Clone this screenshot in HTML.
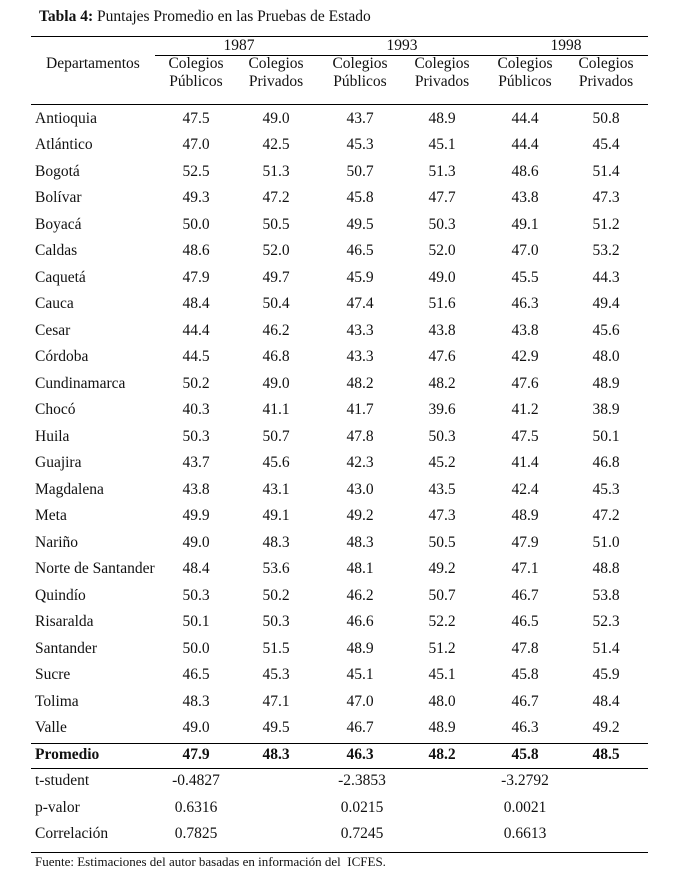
<!DOCTYPE html>
<html><head><meta charset="utf-8">
<style>
body{margin:0;background:#fff;}
#c{position:relative;width:692px;height:877px;font-family:"Liberation Serif",serif;font-size:15.5px;color:#111;overflow:hidden;}
#c div{position:absolute;white-space:nowrap;line-height:18px;}
.l{position:absolute;background:#000;height:1px;}
.n{transform:translateX(-50%);}
.r{height:26px;left:0;width:692px;}
.r span{position:absolute;top:0;transform:translateX(-50%);}
.r span.d{transform:none;left:35px;}
b{font-weight:bold;}
</style></head><body><div id="c">
<div style="left:39px;top:8px;font-size:15.5px"><b>Tabla 4:</b> Puntajes Promedio en las Pruebas de Estado</div>
<span class="l" style="left:31px;top:36px;width:617px"></span>
<span class="l" style="left:155px;top:55px;width:493px"></span>
<span class="l" style="left:31px;top:104px;width:617px"></span>
<span class="l" style="left:31px;top:743px;width:617px"></span>
<span class="l" style="left:31px;top:768px;width:617px"></span>
<span class="l" style="left:31px;top:852px;width:617px"></span>
<div class="n" style="left:239px;top:37px">1987</div>
<div class="n" style="left:402px;top:37px">1993</div>
<div class="n" style="left:566px;top:37px">1998</div>
<div style="left:46px;top:55px">Departamentos</div>
<div class="n" style="left:196px;top:55px;text-align:center">Colegios<br>Públicos</div>
<div class="n" style="left:276px;top:55px;text-align:center">Colegios<br>Privados</div>
<div class="n" style="left:360px;top:55px;text-align:center">Colegios<br>Públicos</div>
<div class="n" style="left:442px;top:55px;text-align:center">Colegios<br>Privados</div>
<div class="n" style="left:525px;top:55px;text-align:center">Colegios<br>Públicos</div>
<div class="n" style="left:606px;top:55px;text-align:center">Colegios<br>Privados</div>

<div class="r" style="top:110px"><span class="d">Antioquia</span><span style="left:196px">47.5</span><span style="left:276px">49.0</span><span style="left:360px">43.7</span><span style="left:442px">48.9</span><span style="left:525px">44.4</span><span style="left:606px">50.8</span></div>
<div class="r" style="top:136px"><span class="d">Atlántico</span><span style="left:196px">47.0</span><span style="left:276px">42.5</span><span style="left:360px">45.3</span><span style="left:442px">45.1</span><span style="left:525px">44.4</span><span style="left:606px">45.4</span></div>
<div class="r" style="top:163px"><span class="d">Bogotá</span><span style="left:196px">52.5</span><span style="left:276px">51.3</span><span style="left:360px">50.7</span><span style="left:442px">51.3</span><span style="left:525px">48.6</span><span style="left:606px">51.4</span></div>
<div class="r" style="top:189px"><span class="d">Bolívar</span><span style="left:196px">49.3</span><span style="left:276px">47.2</span><span style="left:360px">45.8</span><span style="left:442px">47.7</span><span style="left:525px">43.8</span><span style="left:606px">47.3</span></div>
<div class="r" style="top:216px"><span class="d">Boyacá</span><span style="left:196px">50.0</span><span style="left:276px">50.5</span><span style="left:360px">49.5</span><span style="left:442px">50.3</span><span style="left:525px">49.1</span><span style="left:606px">51.2</span></div>
<div class="r" style="top:242px"><span class="d">Caldas</span><span style="left:196px">48.6</span><span style="left:276px">52.0</span><span style="left:360px">46.5</span><span style="left:442px">52.0</span><span style="left:525px">47.0</span><span style="left:606px">53.2</span></div>
<div class="r" style="top:269px"><span class="d">Caquetá</span><span style="left:196px">47.9</span><span style="left:276px">49.7</span><span style="left:360px">45.9</span><span style="left:442px">49.0</span><span style="left:525px">45.5</span><span style="left:606px">44.3</span></div>
<div class="r" style="top:295px"><span class="d">Cauca</span><span style="left:196px">48.4</span><span style="left:276px">50.4</span><span style="left:360px">47.4</span><span style="left:442px">51.6</span><span style="left:525px">46.3</span><span style="left:606px">49.4</span></div>
<div class="r" style="top:322px"><span class="d">Cesar</span><span style="left:196px">44.4</span><span style="left:276px">46.2</span><span style="left:360px">43.3</span><span style="left:442px">43.8</span><span style="left:525px">43.8</span><span style="left:606px">45.6</span></div>
<div class="r" style="top:348px"><span class="d">Córdoba</span><span style="left:196px">44.5</span><span style="left:276px">46.8</span><span style="left:360px">43.3</span><span style="left:442px">47.6</span><span style="left:525px">42.9</span><span style="left:606px">48.0</span></div>
<div class="r" style="top:375px"><span class="d">Cundinamarca</span><span style="left:196px">50.2</span><span style="left:276px">49.0</span><span style="left:360px">48.2</span><span style="left:442px">48.2</span><span style="left:525px">47.6</span><span style="left:606px">48.9</span></div>
<div class="r" style="top:401px"><span class="d">Chocó</span><span style="left:196px">40.3</span><span style="left:276px">41.1</span><span style="left:360px">41.7</span><span style="left:442px">39.6</span><span style="left:525px">41.2</span><span style="left:606px">38.9</span></div>
<div class="r" style="top:428px"><span class="d">Huila</span><span style="left:196px">50.3</span><span style="left:276px">50.7</span><span style="left:360px">47.8</span><span style="left:442px">50.3</span><span style="left:525px">47.5</span><span style="left:606px">50.1</span></div>
<div class="r" style="top:454px"><span class="d">Guajira</span><span style="left:196px">43.7</span><span style="left:276px">45.6</span><span style="left:360px">42.3</span><span style="left:442px">45.2</span><span style="left:525px">41.4</span><span style="left:606px">46.8</span></div>
<div class="r" style="top:481px"><span class="d">Magdalena</span><span style="left:196px">43.8</span><span style="left:276px">43.1</span><span style="left:360px">43.0</span><span style="left:442px">43.5</span><span style="left:525px">42.4</span><span style="left:606px">45.3</span></div>
<div class="r" style="top:507px"><span class="d">Meta</span><span style="left:196px">49.9</span><span style="left:276px">49.1</span><span style="left:360px">49.2</span><span style="left:442px">47.3</span><span style="left:525px">48.9</span><span style="left:606px">47.2</span></div>
<div class="r" style="top:534px"><span class="d">Nariño</span><span style="left:196px">49.0</span><span style="left:276px">48.3</span><span style="left:360px">48.3</span><span style="left:442px">50.5</span><span style="left:525px">47.9</span><span style="left:606px">51.0</span></div>
<div class="r" style="top:560px"><span class="d">Norte de Santander</span><span style="left:196px">48.4</span><span style="left:276px">53.6</span><span style="left:360px">48.1</span><span style="left:442px">49.2</span><span style="left:525px">47.1</span><span style="left:606px">48.8</span></div>
<div class="r" style="top:587px"><span class="d">Quindío</span><span style="left:196px">50.3</span><span style="left:276px">50.2</span><span style="left:360px">46.2</span><span style="left:442px">50.7</span><span style="left:525px">46.7</span><span style="left:606px">53.8</span></div>
<div class="r" style="top:613px"><span class="d">Risaralda</span><span style="left:196px">50.1</span><span style="left:276px">50.3</span><span style="left:360px">46.6</span><span style="left:442px">52.2</span><span style="left:525px">46.5</span><span style="left:606px">52.3</span></div>
<div class="r" style="top:640px"><span class="d">Santander</span><span style="left:196px">50.0</span><span style="left:276px">51.5</span><span style="left:360px">48.9</span><span style="left:442px">51.2</span><span style="left:525px">47.8</span><span style="left:606px">51.4</span></div>
<div class="r" style="top:666px"><span class="d">Sucre</span><span style="left:196px">46.5</span><span style="left:276px">45.3</span><span style="left:360px">45.1</span><span style="left:442px">45.1</span><span style="left:525px">45.8</span><span style="left:606px">45.9</span></div>
<div class="r" style="top:693px"><span class="d">Tolima</span><span style="left:196px">48.3</span><span style="left:276px">47.1</span><span style="left:360px">47.0</span><span style="left:442px">48.0</span><span style="left:525px">46.7</span><span style="left:606px">48.4</span></div>
<div class="r" style="top:719px"><span class="d">Valle</span><span style="left:196px">49.0</span><span style="left:276px">49.5</span><span style="left:360px">46.7</span><span style="left:442px">48.9</span><span style="left:525px">46.3</span><span style="left:606px">49.2</span></div>
<div class="r" style="top:746px;font-weight:bold"><span class="d">Promedio</span><span style="left:196px">47.9</span><span style="left:276px">48.3</span><span style="left:360px">46.3</span><span style="left:442px">48.2</span><span style="left:525px">45.8</span><span style="left:606px">48.5</span></div>
<div class="r" style="top:772px"><span class="d">t-student</span><span style="left:196px">-0.4827</span><span style="left:362px">-2.3853</span><span style="left:525px">-3.2792</span></div>
<div class="r" style="top:799px"><span class="d">p-valor</span><span style="left:196px">0.6316</span><span style="left:362px">0.0215</span><span style="left:525px">0.0021</span></div>
<div class="r" style="top:825px"><span class="d">Correlación</span><span style="left:196px">0.7825</span><span style="left:362px">0.7245</span><span style="left:525px">0.6613</span></div>
<div style="left:35px;top:853px;font-size:13px">Fuente: Estimaciones del autor basadas en información del&nbsp; ICFES.</div>
</div></body></html>
